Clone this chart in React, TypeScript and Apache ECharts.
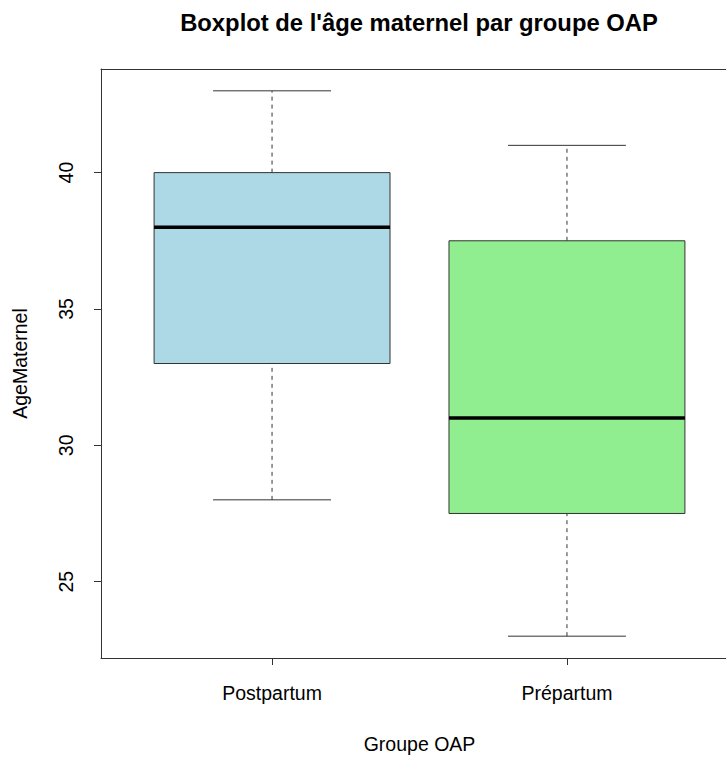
import React, { useEffect, useRef } from "react";
import * as echarts from "echarts";

const categories = ["Postpartum", "Prépartum"];
const whiskerLow = [28, 23];
const q1 = [33, 27.5];
const median = [38, 31];
const q3 = [40, 37.5];
const whiskerHigh = [43, 41];
const boxColors = ["#ADD8E6", "#90EE90"];
const yTicks = [25, 30, 35, 40];

export default function App() {
  const ref = useRef<HTMLDivElement>(null);
  useEffect(() => {
    if (!ref.current) return;
    const chart = echarts.init(ref.current, null, { renderer: "svg" });
    const data = categories.map((c, i) => [i + 1, whiskerLow[i], q1[i], median[i], q3[i], whiskerHigh[i], i]);
    const lineCol = "#333";
    const font = "Liberation Sans, Arial, sans-serif";
    chart.setOption({
      animation: false,
      backgroundColor: "#fff",
      textStyle: { fontFamily: font },
      graphic: [
        {
          type: "text",
          x: 419,
          y: 22,
          style: {
            text: "Boxplot de l'âge maternel par groupe OAP",
            fontFamily: font,
            fontWeight: "bold",
            fontSize: 23.8,
            fill: "#000",
            textAlign: "center",
            textVerticalAlign: "middle",
          },
        },
      ],
      grid: {
        left: 101,
        top: 69,
        width: 637,
        height: 589,
        outerBoundsMode: "none",
        containLabel: false,
        show: false,
      },
      xAxis: [
        {
          type: "value",
          min: 0.42,
          max: 2.58,
          name: "Groupe OAP",
          nameLocation: "middle",
          nameGap: 76,
          nameTextStyle: { fontSize: 19.5, color: "#000", fontFamily: font },
          splitLine: { show: false },
          axisLine: { show: true, onZero: false, lineStyle: { color: lineCol, width: 1 } },
          axisTick: { show: true, length: 7, lineStyle: { color: lineCol }, customValues: [1, 2] },
          axisLabel: {
            show: true,
            customValues: [1, 2],
            margin: 25,
            fontSize: 19.5,
            color: "#000",
            formatter: (v: number) => categories[Math.round(v) - 1] ?? "",
          },
        },
        {
          type: "value",
          position: "top",
          min: 0.42,
          max: 2.58,
          splitLine: { show: false },
          axisLine: { show: true, onZero: false, lineStyle: { color: lineCol, width: 1 } },
          axisTick: { show: false },
          axisLabel: { show: false },
        },
      ],
      yAxis: {
        type: "value",
        min: 22.2,
        max: 43.8,
        name: "AgeMaternel",
        nameLocation: "middle",
        nameGap: 71,
        nameTextStyle: { fontSize: 19.5, color: "#000", fontFamily: font },
        splitLine: { show: false },
        axisLine: { show: true, onZero: false, lineStyle: { color: lineCol, width: 1 } },
        axisTick: { show: true, length: 7, lineStyle: { color: lineCol }, customValues: yTicks },
        axisLabel: {
          show: true,
          customValues: yTicks,
          rotate: 90,
          margin: 25,
          fontSize: 19.5,
          color: "#000",
        },
      },
      series: [
        {
          type: "custom",
          data,
          xAxisIndex: 0,
          encode: { x: 0, y: [1, 2, 3, 4, 5] },
          renderItem: (params: any, api: any) => {
            const x = api.value(0);
            const lo = api.value(1);
            const a = api.value(2);
            const m = api.value(3);
            const b = api.value(4);
            const hi = api.value(5);
            const idx = api.value(6);
            const pLo = api.coord([x, lo]);
            const pA = api.coord([x, a]);
            const pM = api.coord([x, m]);
            const pB = api.coord([x, b]);
            const pHi = api.coord([x, hi]);
            const left = api.coord([x - 0.4, a])[0];
            const right = api.coord([x + 0.4, a])[0];
            const capL = api.coord([x - 0.2, a])[0];
            const capR = api.coord([x + 0.2, a])[0];
            const dash = { stroke: lineCol, lineWidth: 1, lineDash: [4, 4] };
            const solid = { stroke: lineCol, lineWidth: 1 };
            return {
              type: "group",
              children: [
                { type: "line", shape: { x1: pLo[0], y1: pLo[1], x2: pA[0], y2: pA[1] }, style: dash },
                { type: "line", shape: { x1: pB[0], y1: pB[1], x2: pHi[0], y2: pHi[1] }, style: dash },
                { type: "line", shape: { x1: capL, y1: pLo[1], x2: capR, y2: pLo[1] }, style: solid },
                { type: "line", shape: { x1: capL, y1: pHi[1], x2: capR, y2: pHi[1] }, style: solid },
                {
                  type: "rect",
                  shape: { x: left, y: pB[1], width: right - left, height: pA[1] - pB[1] },
                  style: { fill: boxColors[idx], stroke: lineCol, lineWidth: 1 },
                },
                { type: "line", shape: { x1: left, y1: pM[1], x2: right, y2: pM[1] }, style: { stroke: "#000", lineWidth: 3.5 } },
              ],
            };
          },
        },
      ],
    });
    return () => chart.dispose();
  }, []);
  return <div ref={ref} style={{ position: "fixed", left: 0, top: 0, width: 726, height: 758 }} />;
}
